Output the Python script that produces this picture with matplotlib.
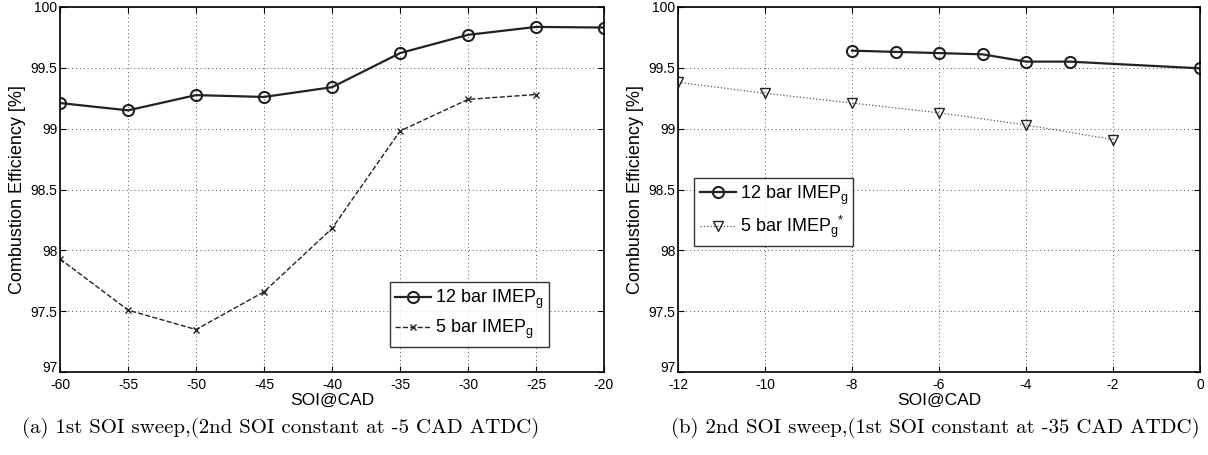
import numpy as np
import matplotlib
matplotlib.use('Agg')
import matplotlib.pyplot as plt

plt.rcParams.update({
    'font.family': ['Liberation Sans', 'DejaVu Sans'],
    'axes.unicode_minus': False,
    'mathtext.fontset': 'custom',
    'mathtext.rm': 'Liberation Sans',
    'mathtext.it': 'Liberation Sans',
    'xtick.direction': 'in',
    'ytick.direction': 'in',
    'xtick.top': True,
    'ytick.right': True,
    'font.size': 10,
})

# ---- data: panel (a) 1st SOI sweep ----
soi1 = [-60, -55, -50, -45, -40, -35, -30, -25, -20]
eff1_12bar = [99.21, 99.15, 99.275, 99.26, 99.34, 99.62, 99.77, 99.835, 99.83]
soi1_5bar = [-60, -55, -50, -45, -40, -35, -30, -25]
eff1_5bar = [97.93, 97.51, 97.35, 97.66, 98.18, 98.98, 99.24, 99.28]

# ---- data: panel (b) 2nd SOI sweep ----
soi2_12bar = [-8, -7, -6, -5, -4, -3, 0]
eff2_12bar = [99.64, 99.63, 99.62, 99.61, 99.55, 99.55, 99.495]
soi2_5bar = [-12, -10, -8, -6, -4, -2]
eff2_5bar = [99.38, 99.29, 99.21, 99.13, 99.03, 98.91]

ylabel = 'Combustion Efficiency [%]'
xlabel = 'SOI@CAD'
lab12 = '12 bar IMEP$_{\\rm g}$'
lab5a = '5 bar IMEP$_{\\rm g}$'
lab5b = '5 bar IMEP$_{\\rm g}$$^{*}$'
captions = ['(a) 1st SOI sweep,(2nd SOI constant at -5 CAD ATDC)',
            '(b) 2nd SOI sweep,(1st SOI constant at -35 CAD ATDC)']

fig = plt.figure(figsize=(12.08, 4.55), dpi=100)
ax1 = fig.add_axes([0.0497, 0.182, 0.4503, 0.803])
ax2 = fig.add_axes([0.5613, 0.182, 0.4321, 0.803])


def style_axis(ax):
    ax.set_ylim(97, 100)
    ax.set_yticks([97, 97.5, 98, 98.5, 99, 99.5, 100])
    ax.set_yticklabels(['97', '97.5', '98', '98.5', '99', '99.5', '100'])
    ax.get_yticklabels()[0].set_va('baseline')   # lift "97" off the x labels
    ax.grid(True, linestyle=(0, (1, 3)), color='#555555', linewidth=0.7)
    ax.set_xlabel(xlabel, fontsize=12.5, labelpad=1)
    ax.set_ylabel(ylabel, fontsize=13, labelpad=3)
    ax.tick_params(labelsize=10, length=4)
    ax.tick_params(axis='x', pad=4)
    ax.tick_params(axis='y', pad=2)
    for s in ax.spines.values():
        s.set_linewidth(1.2)


# panel (a)
ax1.plot(soi1, eff1_12bar, '-', color='#222222', lw=1.6, marker='o', ms=8,
         mfc='none', mew=1.5, label=lab12)
ax1.plot(soi1_5bar, eff1_5bar, '--', color='#222222', lw=1.0, marker='x', ms=4,
         mew=1.0, label=lab5a)
ax1.set_xlim(-60, -20)
ax1.set_xticks(np.arange(-60, -19, 5))
style_axis(ax1)
leg1 = ax1.legend(loc='lower right', bbox_to_anchor=(0.915, 0.045), fontsize=13,
                  frameon=True, fancybox=False, edgecolor='black', handlelength=2.0,
                  handletextpad=0.2, borderpad=0.3, labelspacing=0.4)
leg1.get_frame().set_linewidth(1.0)

# panel (b)
ax2.plot(soi2_12bar, eff2_12bar, '-', color='#222222', lw=1.6, marker='o', ms=8,
         mfc='none', mew=1.5, label=lab12)
ax2.plot(soi2_5bar, eff2_5bar, ':', color='#555555', lw=0.9, marker='v', ms=7,
         mfc='none', mec='#222222', mew=1.0, label=lab5b)
ax2.set_xlim(-12, 0)
ax2.set_xticks(np.arange(-12, 1, 2))
style_axis(ax2)
leg2 = ax2.legend(loc='upper left', bbox_to_anchor=(0.014, 0.556), fontsize=13,
                  frameon=True, fancybox=False, edgecolor='black', handlelength=2.0,
                  handletextpad=0.2, borderpad=0.3, labelspacing=0.4)
leg2.get_frame().set_linewidth(1.0)

fig.text(0.232, 0.06, captions[0], ha='center', va='center',
         family=['cmr10', 'DejaVu Serif'], fontsize=15)
fig.text(0.774, 0.06, captions[1], ha='center', va='center',
         family=['cmr10', 'DejaVu Serif'], fontsize=15)

fig.savefig('out.png', dpi=100, facecolor='white')
